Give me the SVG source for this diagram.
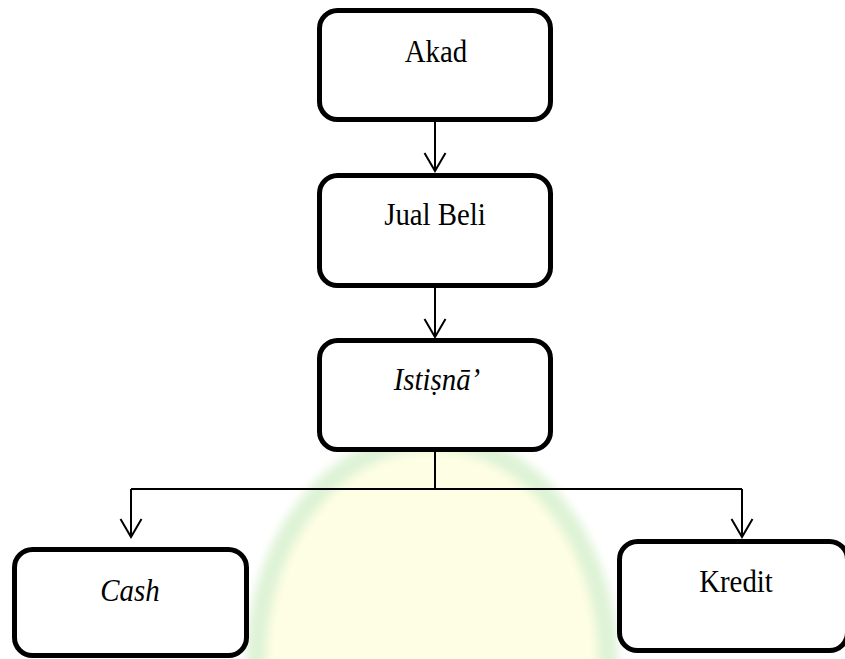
<svg xmlns="http://www.w3.org/2000/svg" width="845" height="659" viewBox="0 0 845 659">
  <style>
    .box { fill: #ffffff; stroke: #000000; stroke-width: 5; }
    .lbl { font-family: "Liberation Serif", "Times New Roman", serif; font-size: 31px; fill: #000000; text-anchor: middle; }
    .it { font-style: italic; }
    .conn { fill: none; stroke: #000000; stroke-width: 2; }
  </style>
  <defs>
    <marker id="arrow" markerUnits="userSpaceOnUse" markerWidth="24" markerHeight="26" refX="20" refY="12" orient="auto">
      <path d="M2,1.5 L20,12 L2,22.5" fill="none" stroke="#000000" stroke-width="2"/>
    </marker>
    <filter id="soft" x="-20%" y="-20%" width="140%" height="140%">
      <feGaussianBlur stdDeviation="5"/>
    </filter>
  </defs>
  <rect width="845" height="659" fill="#ffffff"/>
  <g id="watermark" filter="url(#soft)">
    <ellipse cx="432" cy="664" rx="176" ry="224" fill="#fefee4" stroke="#def3d6" stroke-width="20"/>
  </g>
  <g id="connectors">
    <path class="conn" d="M435,122 L435,171" marker-end="url(#arrow)"/>
    <path class="conn" d="M435,288 L435,337" marker-end="url(#arrow)"/>
    <path class="conn" d="M435,452 L435,489"/>
    <path class="conn" d="M131,489 L742,489"/>
    <path class="conn" d="M131,489 L131,537" marker-end="url(#arrow)"/>
    <path class="conn" d="M742,489 L742,537" marker-end="url(#arrow)"/>
  </g>
  <g id="node-akad">
    <rect class="box" x="319.5" y="10.5" width="231" height="109" rx="18"/>
    <text class="lbl" transform="translate(436,62) scale(0.93,1)">Akad</text>
  </g>
  <g id="node-jual-beli">
    <rect class="box" x="319.5" y="175.5" width="231" height="110" rx="18"/>
    <text class="lbl" transform="translate(435,225) scale(0.93,1)">Jual Beli</text>
  </g>
  <g id="node-istisna">
    <rect class="box" x="319.5" y="340.5" width="231" height="109" rx="18"/>
    <text class="lbl it" transform="translate(437,390) scale(0.93,1)">Istiṣnā’</text>
  </g>
  <g id="node-cash">
    <rect class="box" x="14.5" y="549.5" width="232" height="106" rx="18"/>
    <text class="lbl it" transform="translate(130,601) scale(0.93,1)">Cash</text>
  </g>
  <g id="node-kredit">
    <rect class="box" x="619.5" y="541.5" width="228" height="109" rx="18"/>
    <text class="lbl" transform="translate(736,592) scale(0.93,1)">Kredit</text>
  </g>
</svg>
